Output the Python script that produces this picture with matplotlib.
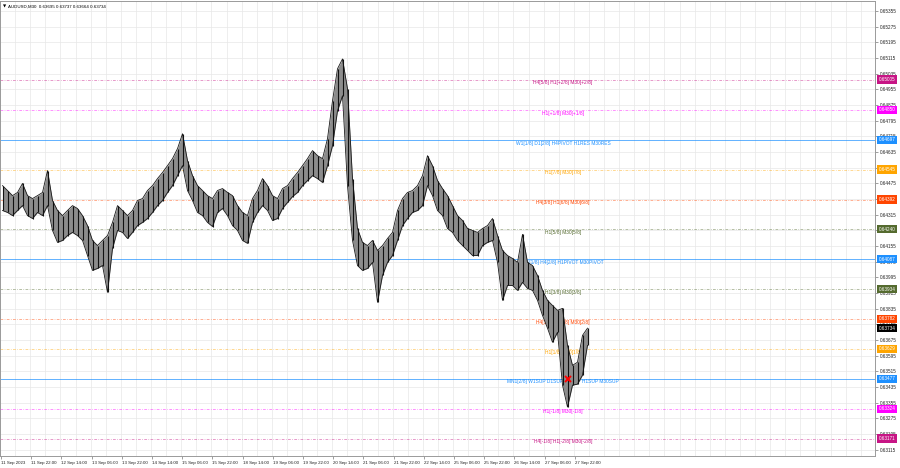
import matplotlib
matplotlib.use("Agg")
import matplotlib.pyplot as plt
import matplotlib.transforms as mtransforms

plt.rcParams["font.family"] = ["Liberation Sans", "DejaVu Sans"]

# AUDUSD M30, bars grouped (high / low of each group)
highs = [
    0.64463, 0.64438, 0.64412, 0.64428, 0.64474, 0.64412, 0.64397, 0.64412, 0.64428, 0.64540,
    0.64387, 0.64336, 0.64310, 0.64336, 0.64361, 0.64346, 0.64310, 0.64259, 0.64183, 0.64157,
    0.64183, 0.64208, 0.64275, 0.64361, 0.64336, 0.64310, 0.64336, 0.64387, 0.64397, 0.64438,
    0.64463, 0.64499, 0.64530, 0.64565, 0.64601, 0.64652, 0.64728, 0.64591, 0.64514, 0.64463,
    0.64438, 0.64412, 0.64397, 0.64438, 0.64448, 0.64428, 0.64412, 0.64361, 0.64326, 0.64310,
    0.64397, 0.64438, 0.64499, 0.64463, 0.64412, 0.64397, 0.64448, 0.64463, 0.64499, 0.64530,
    0.64565, 0.64601, 0.64642, 0.64616, 0.64601, 0.64703, 0.64896, 0.65060, 0.65110, 0.64958,
    0.64499, 0.64244, 0.64173, 0.64157, 0.64183, 0.64132, 0.64157, 0.64193, 0.64224, 0.64336,
    0.64397, 0.64428, 0.64438, 0.64463, 0.64514, 0.64616, 0.64565, 0.64489, 0.64448, 0.64412,
    0.64361, 0.64310, 0.64285, 0.64244, 0.64234, 0.64224, 0.64244, 0.64259, 0.64295, 0.64208,
    0.64132, 0.64106, 0.64091, 0.64071, 0.64214, 0.64071, 0.64055, 0.64004, 0.63928, 0.63877,
    0.63851, 0.63826, 0.63836, 0.63647, 0.63545, 0.63561, 0.63698, 0.63735,
]
lows = [
    0.64336, 0.64326, 0.64310, 0.64336, 0.64361, 0.64310, 0.64295, 0.64326, 0.64310, 0.64361,
    0.64234, 0.64173, 0.64183, 0.64208, 0.64224, 0.64208, 0.64183, 0.64106, 0.64030, 0.64040,
    0.64055, 0.63918, 0.64142, 0.64234, 0.64224, 0.64193, 0.64224, 0.64259, 0.64275, 0.64295,
    0.64326, 0.64361, 0.64387, 0.64428, 0.64463, 0.64514, 0.64565, 0.64438, 0.64387, 0.64326,
    0.64310, 0.64275, 0.64254, 0.64326, 0.64346, 0.64310, 0.64259, 0.64234, 0.64183, 0.64168,
    0.64275, 0.64326, 0.64361, 0.64336, 0.64285, 0.64295, 0.64346, 0.64377, 0.64407, 0.64428,
    0.64463, 0.64489, 0.64514, 0.64499, 0.64479, 0.64565, 0.64667, 0.64845, 0.64922, 0.64463,
    0.64183, 0.64055, 0.64030, 0.64040, 0.64071, 0.63867, 0.64004, 0.64071, 0.64106, 0.64183,
    0.64259, 0.64295, 0.64326, 0.64336, 0.64361, 0.64463, 0.64412, 0.64336, 0.64310, 0.64244,
    0.64224, 0.64183, 0.64157, 0.64132, 0.64106, 0.64106, 0.64157, 0.64173, 0.64183, 0.64071,
    0.63877, 0.63953, 0.63953, 0.63928, 0.63969, 0.63938, 0.63928, 0.63877, 0.63800, 0.63735,
    0.63663, 0.63714, 0.63444, 0.63332, 0.63444, 0.63449, 0.63495, 0.63647,
]

price_ticks = [
    0.65355, 0.65275, 0.65195, 0.65115, 0.65035, 0.64955, 0.64875, 0.64795, 0.64715, 0.64635,
    0.64555, 0.64475, 0.64395, 0.64315, 0.64235, 0.64155, 0.64075, 0.63995, 0.63915, 0.63835,
    0.63755, 0.63675, 0.63595, 0.63515, 0.63435, 0.63355, 0.63275, 0.63195, 0.63115,
]
date_labels = [
    "11 Sep 2023", "11 Sep 22:00", "12 Sep 14:00", "13 Sep 06:00", "13 Sep 22:00",
    "14 Sep 14:00", "15 Sep 06:00", "15 Sep 22:00", "18 Sep 14:00", "19 Sep 06:00",
    "19 Sep 22:00", "20 Sep 14:00", "21 Sep 06:00", "21 Sep 22:00", "22 Sep 14:00",
    "25 Sep 06:00", "25 Sep 22:00", "26 Sep 14:00", "27 Sep 06:00", "27 Sep 22:00",
]

level_prices = [0.65005, 0.64850, 0.64697, 0.64545, 0.64392, 0.64240, 0.64087,
                0.63934, 0.63782, 0.63629, 0.63477, 0.63324, 0.63171]
level_names = [
    "H4[5/8] H1[+2/8] M30[+2/8]",
    "H1[+1/8] M30[+1/8]",
    "W1[1/8] D1[2/8] H4PIVOT H1RES M30RES",
    "H1[7/8] M30[7/8]",
    "H4[3/8] H1[6/8] M30[6/8]",
    "H1[5/8] M30[5/8]",
    "D1[1/8] H4[2/8] H1PIVOT M30PIVOT",
    "H1[3/8] M30[3/8]",
    "H4[1/8] H1[2/8] M30[2/8]",
    "H1[1/8] M30[1/8]",
    "MN1[2/8] W1SUP D1SUP H4SUP H1SUP M30SUP",
    "H1[-1/8] M30[-1/8]",
    "H4[-1/8] H1[-2/8] M30[-2/8]",
]
level_colors = ["#c71585", "#ff00ff", "#1e90ff", "#ffa500", "#ff4500", "#556b2f", "#1e90ff",
                "#556b2f", "#ff4500", "#ffa500", "#1e90ff", "#ff00ff", "#c71585"]

header = "AUDUSD,M30  0.63695 0.63737 0.63664 0.63734"
last_price = 0.63734
signal_bar = 113
signal_price = 0.63477

fig = plt.figure(figsize=(9, 4.68), dpi=100)
ax = fig.add_axes([0.0, 12 / 468, 875 / 900, 455 / 468])
ax.set_xlim(-0.5, 174.5)
ax.set_ylim(0.63082, 0.65406)

# grid
for k in range(59):
    ax.axvline(-0.5 + 3.02 * k, color="#e8e8e8", lw=0.5, zorder=0)
for p in price_ticks:
    ax.axhline(p, color="#e8e8e8", lw=0.5, zorder=0)

# levels
trans = mtransforms.blended_transform_factory(ax.transAxes, ax.transData)
for price, name, color in zip(level_prices, level_names, level_colors):
    if color == "#1e90ff":
        ax.axhline(price, color=color, lw=0.7, alpha=0.7, zorder=1)
    else:
        ax.axhline(price, color=color, lw=0.5, alpha=0.6, ls=(0, (4, 2, 1, 2)), zorder=1)
    ax.text(112.1, price - 0.00004, name, color=color, fontsize=3.5,
            ha="center", va="top", zorder=2)
    ax.text(1.004, price, f"{price:.5f}", transform=trans, fontsize=3.3, color="white",
            ha="left", va="center", clip_on=False, zorder=5,
            bbox=dict(boxstyle="square,pad=0.35", fc=color, ec="none"))

ax.text(1.004, last_price, f"{last_price:.5f}", transform=trans, fontsize=3.3, color="white",
        ha="left", va="center", clip_on=False, zorder=6,
        bbox=dict(boxstyle="square,pad=0.35", fc="black", ec="none"))

# price bars
x = list(range(len(highs)))
ax.fill_between(x, lows, highs, color="#8c8c8c", lw=0, zorder=3)
ax.plot(x, highs, color="#1a1a1a", lw=0.6, zorder=4)
ax.plot(x, lows, color="#1a1a1a", lw=0.6, zorder=4)
ax.vlines(x, lows, highs, color="#111111", lw=0.8, zorder=4)

ax.plot([signal_bar], [signal_price], marker="x", color="red", ms=5, mew=1.4, zorder=5)

ax.text(0.003, 0.993, "\u25bc", transform=ax.transAxes, fontsize=3, va="top", ha="left",
        family=["DejaVu Sans"])
ax.text(0.009, 0.993, header, transform=ax.transAxes, fontsize=3.2, va="top", ha="left")

# axes
ax.yaxis.tick_right()
ax.set_yticks(price_ticks)
ax.set_yticklabels([f"{p:.5f}" for p in price_ticks])
ax.tick_params(axis="y", labelsize=3.3, length=2, width=0.5, pad=1.5, color="#777",
               labelcolor="#222")
ax.set_xticks([-0.3 + 6.04 * k for k in range(len(date_labels))])
ax.set_xticklabels(date_labels, ha="left")
ax.tick_params(axis="x", labelsize=3.2, length=2, width=0.5, pad=1.5, color="#777",
               labelcolor="#222")
for s in ax.spines.values():
    s.set_color("#9a9a9a")
    s.set_linewidth(0.7)

fig.savefig("out.png", dpi=100, facecolor="white")
